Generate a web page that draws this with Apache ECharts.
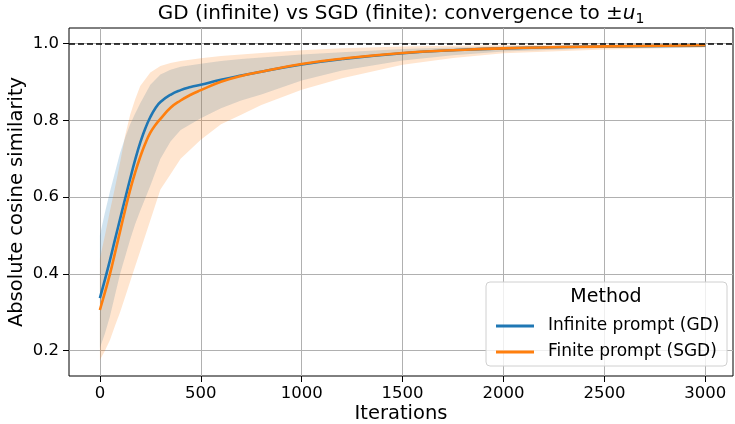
<!DOCTYPE html>
<html>
<head>
<meta charset="utf-8">
<title>GD vs SGD convergence</title>
<script src="https://cdn.jsdelivr.net/npm/echarts@6/dist/echarts.min.js"></script>
<style>
  html, body { margin: 0; padding: 0; background: #fff; }
  #chart { width: 735px; height: 424px; }
</style>
</head>
<body>
<div id="chart"></div>
<script>
// mean curves
const meanIters = [0, 25, 50, 75, 100, 125, 150, 175, 200, 225, 250, 275, 300, 350, 400, 450, 500, 600, 700, 800, 1000, 1200, 1500, 1750, 2000, 2500, 3000];
const gdMean = [0.337, 0.385, 0.436, 0.49, 0.543, 0.596, 0.648, 0.698, 0.742, 0.779, 0.809, 0.832, 0.848, 0.867, 0.879, 0.887, 0.893, 0.906, 0.917, 0.927, 0.946, 0.96, 0.975, 0.983, 0.988, 0.993, 0.995];
const sgdMean = [0.306, 0.352, 0.40, 0.455, 0.511, 0.566, 0.619, 0.665, 0.705, 0.74, 0.768, 0.788, 0.804, 0.833, 0.852, 0.867, 0.879, 0.901, 0.916, 0.927, 0.947, 0.961, 0.976, 0.983, 0.988, 0.993, 0.996];

// spread bands
const bandIters = [0, 25, 50, 75, 100, 125, 150, 175, 200, 250, 300, 350, 400, 500, 600, 700, 800, 1000, 1200, 1500, 1750, 2000, 2500, 3000];
const gdLower = [0.207, 0.245, 0.29, 0.345, 0.40, 0.445, 0.49, 0.53, 0.565, 0.63, 0.70, 0.745, 0.775, 0.806, 0.832, 0.852, 0.868, 0.904, 0.93, 0.956, 0.97, 0.98, 0.989, 0.993];
const gdUpper = [0.50, 0.56, 0.615, 0.665, 0.715, 0.755, 0.79, 0.818, 0.845, 0.893, 0.92, 0.932, 0.94, 0.948, 0.955, 0.96, 0.964, 0.972, 0.978, 0.986, 0.99, 0.993, 0.996, 0.997];
const sgdLower = [0.176, 0.20, 0.228, 0.265, 0.30, 0.34, 0.38, 0.42, 0.46, 0.54, 0.62, 0.66, 0.70, 0.75, 0.79, 0.815, 0.84, 0.88, 0.91, 0.945, 0.963, 0.975, 0.985, 0.99];
const sgdUpper = [0.44, 0.50, 0.565, 0.625, 0.69, 0.76, 0.815, 0.855, 0.89, 0.925, 0.942, 0.95, 0.955, 0.962, 0.968, 0.972, 0.976, 0.983, 0.988, 0.993, 0.995, 0.996, 0.998, 0.999];

const xTicks = [0, 500, 1000, 1500, 2000, 2500, 3000];
const yTicks = [0.2, 0.4, 0.6, 0.8, 1.0];
const seriesNames = ['Infinite prompt (GD)', 'Finite prompt (SGD)'];

const FONT = 'DejaVu Sans';
const BLUE = '#1f77b4';
const ORANGE = '#ff7f0e';

function pairs(xs, ys) {
  return xs.map((x, i) => [x, ys[i]]);
}

// filled region between lower and upper, one polygon
function band(name, lower, upper, fill) {
  return {
    type: 'custom',
    name: name,
    silent: true,
    z: 1,
    data: bandIters.map((x, i) => [x, lower[i], upper[i]]),
    encode: { x: 0, y: [1, 2] },
    renderItem: function (params, api) {
      if (params.dataIndex !== 0) return null;
      let pts = [];
      for (let i = 0; i < bandIters.length; i++) pts.push(api.coord([bandIters[i], upper[i]]));
      for (let i = bandIters.length - 1; i >= 0; i--) pts.push(api.coord([bandIters[i], lower[i]]));
      return { type: 'polygon', shape: { points: pts }, style: { fill: fill, stroke: null } };
    }
  };
}

const myChart = echarts.init(document.getElementById('chart'));

myChart.setOption({
  animation: false,
  grid: {
    left: 69, top: 28, width: 664, height: 348,
    containLabel: false, outerBoundsMode: 'none',
    show: true, borderColor: '#000', borderWidth: 1, backgroundColor: 'transparent'
  },
  xAxis: {
    type: 'value', min: -153, max: 3137,
    name: 'Iterations', nameLocation: 'middle', nameGap: 28, nameMoveOverlap: false,
    nameTextStyle: { fontFamily: FONT, fontSize: 19.5, color: '#000' },
    axisLine: { show: false, onZero: false },
    axisTick: { show: true, length: 6, lineStyle: { color: '#000' }, customValues: xTicks },
    axisLabel: { customValues: xTicks, margin: 9, fontFamily: FONT, fontSize: 16.5, color: '#000', formatter: v => String(v) },
    splitLine: { show: true, lineStyle: { color: '#b0b0b0', width: 1 } }
  },
  yAxis: {
    type: 'value', min: 0.134, max: 1.041,
    name: 'Absolute cosine similarity', nameLocation: 'middle', nameGap: 42, nameMoveOverlap: false,
    nameTextStyle: { fontFamily: FONT, fontSize: 19.5, color: '#000' },
    axisLine: { show: false, onZero: false },
    axisTick: { show: true, length: 6, lineStyle: { color: '#000' }, customValues: yTicks },
    axisLabel: { customValues: yTicks, margin: 10, fontFamily: FONT, fontSize: 16.5, color: '#000', formatter: v => v.toFixed(1) },
    splitLine: { show: true, lineStyle: { color: '#b0b0b0', width: 1 } }
  },
  legend: {
    data: seriesNames,
    orient: 'vertical', left: 491, top: 311,
    icon: 'rect', itemWidth: 38, itemHeight: 3, itemGap: 6,
    selectedMode: false,
    textStyle: { fontFamily: FONT, fontSize: 17, color: '#000', lineHeight: 20, padding: [0, 0, 0, 9] },
    z: 10
  },
  graphic: [
    {
      type: 'rect', z: 8,
      shape: { x: 486, y: 282, width: 241, height: 84, r: 4 },
      style: { fill: 'rgba(255,255,255,0.8)', stroke: '#d0d0d0', lineWidth: 1 }
    },
    {
      type: 'text', z: 9, x: 606, y: 297,
      style: {
        text: 'Method', font: '19px "DejaVu Sans"', fill: '#000',
        align: 'center', verticalAlign: 'middle', textAlign: 'center', textVerticalAlign: 'middle'
      }
    },
    {
      type: 'text', z: 9, x: 401, y: 14,
      style: {
        text: '{a|GD (infinite) vs SGD (finite): convergence to ±}{i|u}{s|1}',
        align: 'center', verticalAlign: 'middle', textAlign: 'center', textVerticalAlign: 'middle',
        rich: {
          a: { fontFamily: FONT, fontSize: 20, fill: '#000', color: '#000' },
          i: { fontFamily: FONT, fontSize: 20, fontStyle: 'italic', fill: '#000', color: '#000' },
          s: { fontFamily: FONT, fontSize: 14, fill: '#000', color: '#000', padding: [10, 0, 0, 0] }
        }
      }
    }
  ],
  series: [
    band('GD band', gdLower, gdUpper, 'rgba(31,119,180,0.2)'),
    band('SGD band', sgdLower, sgdUpper, 'rgba(255,127,14,0.2)'),
    {
      name: seriesNames[0], type: 'line', z: 3,
      data: pairs(meanIters, gdMean),
      showSymbol: false, smooth: 0.5,
      color: BLUE, lineStyle: { color: BLUE, width: 2.6 },
      markLine: {
        silent: true, symbol: 'none', label: { show: false },
        lineStyle: { color: '#000', type: [6, 3], width: 1.5 },
        data: [{ yAxis: 1.0 }]
      }
    },
    {
      name: seriesNames[1], type: 'line', z: 4,
      data: pairs(meanIters, sgdMean),
      showSymbol: false, smooth: 0.5,
      color: ORANGE, lineStyle: { color: ORANGE, width: 2.6 }
    }
  ]
});

window.addEventListener('resize', () => {
  myChart.resize();
});
</script>
</body>
</html>
